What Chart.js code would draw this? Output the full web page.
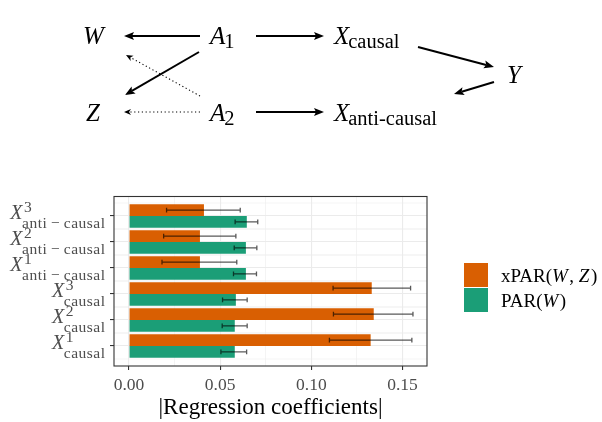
<!DOCTYPE html>
<html>
<head>
<meta charset="utf-8">
<script src="https://cdn.jsdelivr.net/npm/chart.js@4"></script>
<style>
  body { margin: 0; background: #fff; }
</style>
</head>
<body>
<canvas id="chart" width="602" height="422"></canvas>
<script>
// rows from bottom to top, as in the plot
const rowPos = [1, 2, 3, 4, 5, 6];
const rowSup = ['1', '2', '3', '1', '2', '3'];
const rowSub = ['causal', 'causal', 'causal', 'anti\u2009\u2212\u2009causal', 'anti\u2009\u2212\u2009causal', 'anti\u2009\u2212\u2009causal'];

// |regression coefficient| means and error bar ends
const xparMean = [0.1325, 0.1342, 0.1331, 0.0389, 0.0389, 0.0411];
const xparLo   = [0.1099, 0.1121, 0.1119, 0.0181, 0.0190, 0.0206];
const xparHi   = [0.1551, 0.1557, 0.1544, 0.0591, 0.0586, 0.0610];
const parMean  = [0.0580, 0.0580, 0.0586, 0.0641, 0.0641, 0.0646];
const parLo    = [0.0504, 0.0511, 0.0513, 0.0573, 0.0577, 0.0582];
const parHi    = [0.0645, 0.0648, 0.0648, 0.0699, 0.0701, 0.0706];

const SERIF = '"Liberation Serif", "Times New Roman", serif';
const ORANGE = '#D95F02', GREEN = '#1B9E77';

function isMult(v, step) { return Math.abs(v / step - Math.round(v / step)) < 1e-6; }

/** helpers for the causal graph **/
function arrow(ctx, x1, y1, x2, y2, dotted) {
    const a = Math.atan2(y2 - y1, x2 - x1);
    const L = dotted ? 7 : 10, H = dotted ? 3 : 4;
    const bx = x2 - L * Math.cos(a), by = y2 - L * Math.sin(a);
    ctx.save();
    ctx.strokeStyle = '#000';
    ctx.fillStyle = '#000';
    ctx.lineWidth = dotted ? 1.1 : 2;
    if (dotted) ctx.setLineDash([1.2, 2.6]);
    ctx.beginPath();
    ctx.moveTo(x1, y1);
    ctx.lineTo(bx + 2 * Math.cos(a), by + 2 * Math.sin(a));
    ctx.stroke();
    ctx.setLineDash([]);
    ctx.beginPath();
    ctx.moveTo(x2, y2);
    ctx.lineTo(bx + H * Math.sin(a), by - H * Math.cos(a));
    ctx.lineTo(bx + 2 * Math.cos(a), by + 2 * Math.sin(a));
    ctx.lineTo(bx - H * Math.sin(a), by + H * Math.cos(a));
    ctx.closePath();
    ctx.fill();
    ctx.restore();
}
function node(ctx, x, base, main, sub) {
    ctx.font = 'italic 25px ' + SERIF;
    ctx.fillText(main, x, base);
    if (sub) {
        const w = ctx.measureText(main).width;
        ctx.font = '20.5px ' + SERIF;
        ctx.fillText(sub, x + w - 1, base + 4);
    }
}

const diagram = {
    id: 'diagram',
    afterDraw(chart) {
        const ctx = chart.ctx;
        ctx.save();
        ctx.fillStyle = '#000';
        ctx.textBaseline = 'alphabetic';
        node(ctx, 83, 44, 'W');
        node(ctx, 210, 44, 'A', '1');
        node(ctx, 334, 44, 'X', 'causal');
        node(ctx, 507, 83, 'Y');
        node(ctx, 86, 121, 'Z');
        node(ctx, 210, 121, 'A', '2');
        node(ctx, 334, 121, 'X', 'anti-causal');
        arrow(ctx, 200, 36, 124, 36);
        arrow(ctx, 256, 36, 324, 36);
        arrow(ctx, 199, 52, 125, 95);
        arrow(ctx, 200, 96, 126, 55, true);
        arrow(ctx, 200, 112, 124, 112, true);
        arrow(ctx, 256, 112, 324, 112);
        arrow(ctx, 418, 47, 494, 67);
        arrow(ctx, 494, 82, 454, 94);
        ctx.restore();
    }
};

// ggplot-style minor grid lines between the rows
const minorRows = {
    id: 'minorRows',
    beforeDatasetsDraw(chart) {
        const {ctx, chartArea: a, scales: {y: ys}} = chart;
        ctx.save();
        ctx.strokeStyle = '#EBEBEB';
        ctx.lineWidth = 0.55;
        ctx.beginPath();
        rowPos.forEach(p => {
            [p - 0.5, p + 0.5].forEach(v => {
                const y = ys.getPixelForValue(v);
                ctx.moveTo(a.left, y);
                ctx.lineTo(a.right, y);
            });
        });
        ctx.stroke();
        ctx.restore();
    }
};

const errorBars = {
    id: 'errorBars',
    afterDatasetsDraw(chart) {
        const ctx = chart.ctx, xs = chart.scales.x;
        chart.data.datasets.forEach((ds, d) => {
            chart.getDatasetMeta(d).data.forEach((bar, i) => {
                const x1 = xs.getPixelForValue(ds.lo[i]);
                const x2 = xs.getPixelForValue(ds.hi[i]);
                ctx.save();
                ctx.strokeStyle = 'rgba(0,0,0,0.65)';
                ctx.lineWidth = 1.3;
                ctx.beginPath();
                ctx.moveTo(x1, bar.y); ctx.lineTo(x2, bar.y);
                ctx.moveTo(x1, bar.y - 2.4); ctx.lineTo(x1, bar.y + 2.4);
                ctx.moveTo(x2, bar.y - 2.4); ctx.lineTo(x2, bar.y + 2.4);
                ctx.stroke();
                ctx.restore();
            });
        });
    }
};

const panelBorder = {
    id: 'panelBorder',
    afterDraw(chart) {
        const {ctx, chartArea: a} = chart;
        ctx.save();
        ctx.strokeStyle = '#333333';
        ctx.lineWidth = 1.1;
        ctx.strokeRect(a.left, a.top, a.right - a.left, a.bottom - a.top);
        ctx.restore();
    }
};

const rowLabels = {
    id: 'rowLabels',
    afterDraw(chart) {
        const ctx = chart.ctx, ys = chart.scales.y;
        const right = 106;
        ctx.save();
        ctx.fillStyle = '#4D4D4D';
        ctx.textBaseline = 'alphabetic';
        rowPos.forEach((p, i) => {
            const y = ys.getPixelForValue(p);
            ctx.font = '15.5px ' + SERIF;
            ctx.letterSpacing = '0.5px';
            const wScript = Math.max(ctx.measureText(rowSub[i]).width, ctx.measureText(rowSup[i]).width);
            ctx.letterSpacing = '0px';
            ctx.font = 'italic 20px ' + SERIF;
            const wX = ctx.measureText('X').width;
            const x0 = right - wScript - wX;
            ctx.fillText('X', x0, y + 3.5);
            ctx.font = '15.5px ' + SERIF;
            ctx.fillText(rowSup[i], x0 + wX + 1.5, y - 3.5);
            ctx.letterSpacing = '0.5px';
            ctx.fillText(rowSub[i], x0 + wX - 0.5, y + 12);
            ctx.letterSpacing = '0px';
        });
        ctx.restore();
    }
};

const legendBox = {
    id: 'legendBox',
    afterDraw(chart) {
        const ctx = chart.ctx;
        const items = [
            {color: chart.data.datasets[0].backgroundColor, parts: [['xPAR(', 0], ['W', 1], [', ', 0], ['Z', 1], [')', 0]]},
            {color: chart.data.datasets[1].backgroundColor, parts: [['PAR(', 0], ['W', 1], [')', 0]]}
        ];
        ctx.save();
        items.forEach((it, k) => {
            const top = 263 + k * 25;
            ctx.fillStyle = it.color;
            ctx.fillRect(464, top, 24, 24);
            ctx.fillStyle = '#000';
            let x = 501;
            it.parts.forEach(([t, ital]) => {
                ctx.font = (ital ? 'italic ' : '') + '19px ' + SERIF;
                ctx.fillText(t, x, top + 18.5);
                x += ctx.measureText(t).width + (ital ? 1.5 : 0);
            });
        });
        ctx.restore();
    }
};

new Chart(document.getElementById('chart'), {
    type: 'bar',
    data: {
        datasets: [
            {label: 'xPAR(W, Z)', data: rowPos.map((p, i) => ({x: xparMean[i], y: p})),
             backgroundColor: ORANGE, lo: xparLo, hi: xparHi},
            {label: 'PAR(W)', data: rowPos.map((p, i) => ({x: parMean[i], y: p})),
             backgroundColor: GREEN, lo: parLo, hi: parHi}
        ]
    },
    options: {
        indexAxis: 'y',
        responsive: false,
        animation: false,
        devicePixelRatio: 1,
        categoryPercentage: 0.9,
        barPercentage: 1,
        layout: {padding: {top: 196.5, right: 175, bottom: 0, left: 0}},
        plugins: {legend: {display: false}, tooltip: {enabled: false}},
        scales: {
            x: {
                type: 'linear', min: -0.00822, max: 0.1634, offset: false,
                border: {display: false},
                grid: {
                    offset: false, color: '#EBEBEB',
                    lineWidth: c => isMult(c.tick.value, 0.05) ? 1.1 : 0.55,
                    tickColor: c => isMult(c.tick.value, 0.05) ? '#333333' : 'rgba(0,0,0,0)',
                    tickLength: 4, tickWidth: 1.1
                },
                ticks: {
                    stepSize: 0.025, includeBounds: false, autoSkip: false, maxRotation: 0,
                    padding: 5, color: '#4D4D4D', font: {family: SERIF, size: 17.5},
                    callback: v => isMult(v, 0.05) ? v.toFixed(2) : ''
                },
                title: {display: true, text: '|Regression coefficients|', color: '#000',
                        font: {family: SERIF, size: 23}, padding: {top: 0, bottom: 0}},
                afterFit: s => { s.height = 56; }
            },
            y: {
                type: 'linear', min: 0.23, max: 6.75, offset: false,
                border: {display: false},
                grid: {
                    offset: false, color: '#EBEBEB', lineWidth: 1.1,
                    tickColor: '#333333', tickLength: 4, tickWidth: 1.1
                },
                ticks: {stepSize: 1, includeBounds: false, autoSkip: false, callback: () => ''},
                afterFit: s => { s.width = 114; }
            }
        }
    },
    plugins: [minorRows, errorBars, panelBorder, rowLabels, legendBox, diagram]
});
</script>
</body>
</html>
